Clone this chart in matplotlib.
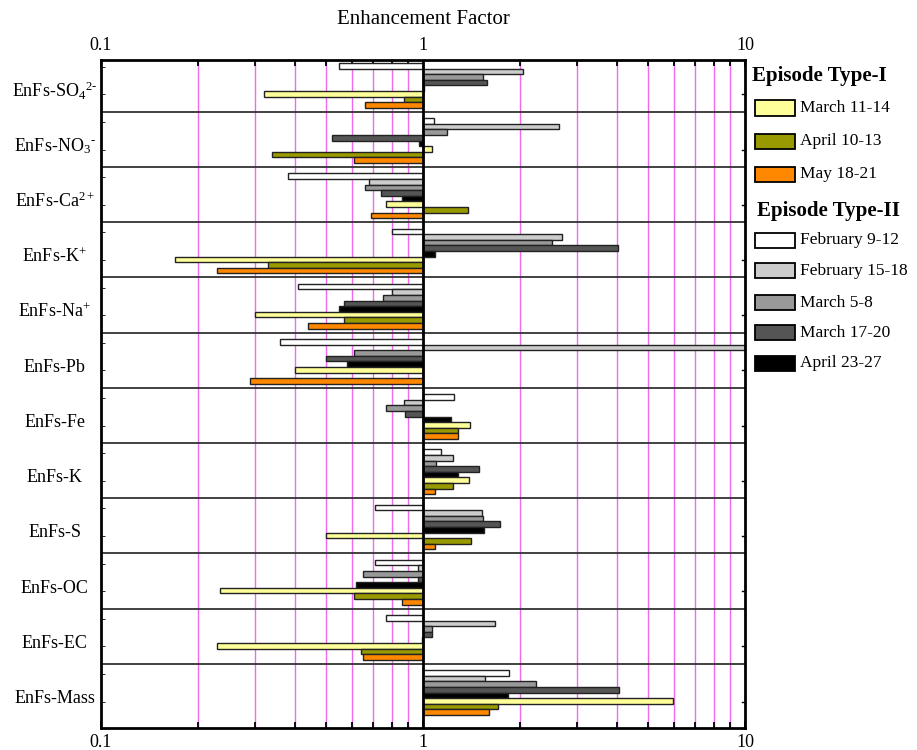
import numpy as np
import matplotlib
matplotlib.use("Agg")
import matplotlib.pyplot as plt
from matplotlib.patches import Rectangle
from matplotlib.ticker import FixedLocator, NullFormatter

plt.rcParams['font.family'] = ['Liberation Serif', 'DejaVu Serif']
plt.rcParams['mathtext.fontset'] = 'custom'
plt.rcParams['mathtext.rm'] = 'Liberation Serif'
plt.rcParams['mathtext.it'] = 'Liberation Serif:italic'
plt.rcParams['mathtext.bf'] = 'Liberation Serif:bold'

# ---------------- data ----------------
categories = [r"EnFs-SO$_4$$^{\text{2-}}$", r"EnFs-NO$_3$$^{\text{-}}$", r"EnFs-Ca$^{2+}$", r"EnFs-K$^{+}$",
              r"EnFs-Na$^{+}$", "EnFs-Pb", "EnFs-Fe", "EnFs-K", "EnFs-S", "EnFs-OC",
              "EnFs-EC", "EnFs-Mass"]

# series in drawing order (top to bottom inside each group)
feb_9_12   = [0.55, 1.08, 0.38, 0.80, 0.41, 0.36, 1.25, 1.14, 0.71, 0.71, 0.77, 1.85]
feb_15_18  = [2.05, 2.64, 0.68, 2.71, 0.80, 10.0, 0.87, 1.24, 1.52, 0.965, 1.67, 1.56]
mar_5_8    = [1.54, 1.19, 0.66, 2.52, 0.75, 0.61, 0.77, 1.10, 1.54, 0.65, 1.064, 2.25]
mar_17_20  = [1.58, 0.52, 0.74, 4.03, 0.57, 0.50, 0.88, 1.49, 1.74, 0.967, 1.064, 4.05]
apr_23_27  = [1.01, 0.97, 0.86, 1.09, 0.55, 0.58, 1.22, 1.28, 1.55, 0.62, 0.99, 1.84]
mar_11_14  = [0.32, 1.07, 0.77, 0.17, 0.30, 0.40, 1.40, 1.39, 0.50, 0.234, 0.23, 5.98]
apr_10_13  = [0.87, 0.34, 1.38, 0.33, 0.57, 1.00, 1.28, 1.24, 1.41, 0.61, 0.64, 1.71]
may_18_21  = [0.66, 0.61, 0.69, 0.23, 0.44, 0.29, 1.28, 1.09, 1.09, 0.86, 0.65, 1.60]

series = [feb_9_12, feb_15_18, mar_5_8, mar_17_20, apr_23_27, mar_11_14, apr_10_13, may_18_21]
series_labels = ["February 9-12", "February 15-18", "March 5-8", "March 17-20", "April 23-27",
                 "March 11-14", "April 10-13", "May 18-21"]
series_colors = ["#ffffff", "#cccccc", "#999999", "#555555", "#000000",
                 "#ffff99", "#999900", "#ff8800"]

type1_idx = [5, 6, 7]
type2_idx = [0, 1, 2, 3, 4]
type1_title = "Episode Type-I"
type2_title = "Episode Type-II"

x_ticks = [0.1, 1, 10]
x_tick_labels = ["0.1", "1", "10"]

# ---------------- figure ----------------
W, H = 917, 750
fig = plt.figure(figsize=(W / 100, H / 100), dpi=100)
ax = fig.add_axes([101 / W, 1 - 728.3 / H, (745 - 101) / W, (728.3 - 60) / H])
ax.set_xscale('log')
ax.set_xlim(0.1, 10)
ax.set_ylim(11.67, -0.437)

# magenta minor gridlines
minor = [m * 10.0 ** e for e in (-1, 0) for m in range(2, 10)]
for xv in minor:
    ax.axvline(xv, color='#ee44ee', lw=1.0, alpha=0.8, zorder=1)

ypos = np.arange(len(categories))
bar_h = 0.101
for i, (vals, col) in enumerate(zip(series, series_colors)):
    v = np.array(vals, dtype=float)
    left = np.minimum(v, 1.0)
    width = np.abs(v - 1.0)
    ax.barh(ypos - 0.332 + i * 0.1014, width, left=left, height=bar_h,
            color=col, edgecolor='#222222', linewidth=1.0, zorder=3)

# group separators
for k in range(len(categories) - 1):
    ax.axhline(k + 0.5, color='#333333', lw=1.3, zorder=4)
ax.axvline(1.0, color='black', lw=2.0, zorder=5)

for s in ax.spines.values():
    s.set_linewidth(2.0)
    s.set_zorder(6)

# x ticks
ax.xaxis.set_major_locator(FixedLocator(x_ticks))
ax.set_xticklabels(x_tick_labels)
ax.xaxis.set_minor_locator(FixedLocator(minor))
ax.xaxis.set_minor_formatter(NullFormatter())
ax.tick_params(axis='x', which='both', direction='in', top=True, bottom=True,
               labeltop=True, labelbottom=True, labelsize=13, width=1.3)
ax.tick_params(axis='x', which='major', length=5, pad=4)
ax.tick_params(axis='x', which='minor', length=4)

# y ticks: labels as text, small inward ticks
ax.set_yticks([])
ax.yaxis.set_minor_locator(FixedLocator(np.arange(-0.315, 11.6, 0.5)))
ax.tick_params(axis='y', which='minor', direction='in', length=3, left=True, right=False)
for k, lab in enumerate(categories):
    ax.text(-0.072, k + 0.13, lab, transform=ax.get_yaxis_transform(), ha='center',
            va='center', fontsize=13)
for k in range(len(categories)):
    ax.plot([1.0, 0.995], [k + 0.185, k + 0.185], transform=ax.get_yaxis_transform(),
            color='black', lw=1.0, clip_on=False, zorder=7)

fig.text(423 / W, 1 - 20 / H, "Enhancement Factor", ha='center', va='center', fontsize=15)

# legend (manual)
def legend_row(idx, yc):
    fig.patches.append(Rectangle((755 / W, 1 - (yc + 7.5) / H), 40 / W, 15 / H,
                                 transform=fig.transFigure, facecolor=series_colors[idx],
                                 edgecolor='black', linewidth=1.3))
    fig.text(800 / W, 1 - yc / H, series_labels[idx], ha='left', va='center', fontsize=12.5)

fig.text(752 / W, 1 - 76 / H, type1_title, ha='left', va='center', fontsize=15, fontweight='bold')
for idx, yc in zip(type1_idx, [108, 141, 174]):
    legend_row(idx, yc)
fig.text(757 / W, 1 - 211 / H, type2_title, ha='left', va='center', fontsize=15, fontweight='bold')
for idx, yc in zip(type2_idx, [240, 271, 303, 333, 363]):
    legend_row(idx, yc)

fig.savefig("out.png", dpi=100, facecolor='white')
